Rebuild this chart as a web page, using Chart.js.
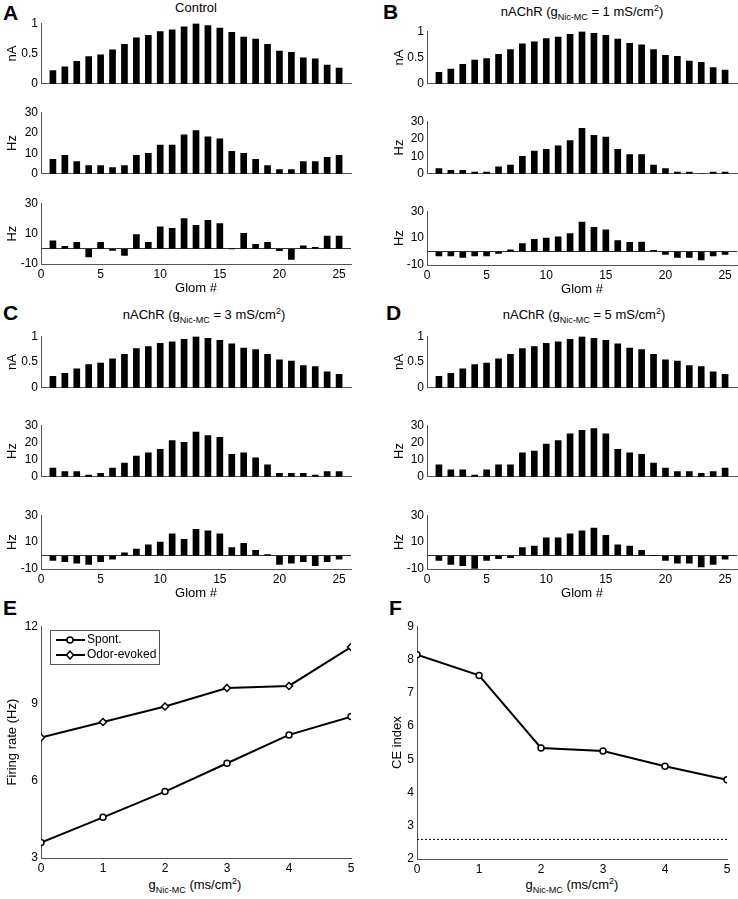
<!DOCTYPE html>
<html>
<head>
<meta charset="utf-8">
<script src="https://cdn.jsdelivr.net/npm/chart.js@4.4.1/dist/chart.umd.min.js"></script>
<style>
  body { margin: 0; width: 738px; height: 899px; position: relative; overflow: hidden; background: #fff;
         font-family: "Liberation Sans", Arial, sans-serif; color: #000; }
  canvas { position: absolute; }
  .lbl { position: absolute; white-space: nowrap; font-size: 13px; line-height: 16px; transform: translate(-50%, -50%); }
  .panel { position: absolute; font-weight: bold; font-size: 21px; line-height: 21px; }
  sub, sup { font-size: 9px; line-height: 0; }
</style>
</head>
<body>
<div class="panel" style="left:3px;top:2px">A</div>
<div class="panel" style="left:383px;top:1px">B</div>
<div class="panel" style="left:3px;top:302px">C</div>
<div class="panel" style="left:386px;top:302px">D</div>
<div class="panel" style="left:3px;top:597px">E</div>
<div class="panel" style="left:389px;top:597px">F</div>

<div class="lbl" style="left:196px;top:8px">Control</div>
<div class="lbl" style="left:582px;top:12px">nAChR (g<sub>Nic-MC</sub> = 1 mS/cm<sup>2</sup>)</div>
<div class="lbl" style="left:204px;top:315px">nAChR (g<sub>Nic-MC</sub> = 3 mS/cm<sup>2</sup>)</div>
<div class="lbl" style="left:584px;top:315px">nAChR (g<sub>Nic-MC</sub> = 5 mS/cm<sup>2</sup>)</div>
<div class="lbl" style="left:195px;top:885px">g<sub>Nic-MC</sub> (ms/cm<sup>2</sup>)</div>
<div class="lbl" style="left:572px;top:885px">g<sub>Nic-MC</sub> (ms/cm<sup>2</sup>)</div>

<script>
// Glomerulus index and tick labels
var glom = [1, 2, 3, 4, 5, 6, 7, 8, 9, 10, 11, 12, 13, 14, 15, 16, 17, 18, 19, 20, 21, 22, 23, 24, 25];
var glomTicks = [0, 5, 10, 15, 20, 25];
var currentTicks = [0, 0.5, 1];
var rateTicks = [0, 10, 20, 30];
var diffTicks = [-10, 10, 30];

// Input current (nA), same in every panel
var inputCurrent = [0.22, 0.28, 0.37, 0.45, 0.48, 0.56, 0.65, 0.76, 0.80, 0.86, 0.89, 0.94, 0.99,
  0.96, 0.92, 0.85, 0.77, 0.74, 0.65, 0.54, 0.52, 0.43, 0.41, 0.31, 0.26];

// Firing rate (Hz), middle rows
var rateControl = [7, 9, 6, 4, 4, 3, 4, 9, 10, 14, 14, 19, 21, 18, 17, 11, 10, 7, 4, 2, 2, 6, 6, 8, 9];
var rateG1 = [3, 2, 2, 1, 1, 4, 5, 10, 13, 14, 16, 19, 26, 22, 21, 14, 11, 11, 5, 3, 1, 1, 0, 1, 1];
var rateG3 = [5, 3, 3, 1, 2, 5, 8, 12, 14, 16, 21, 20, 26, 24, 23, 13, 14, 11, 7, 2, 2, 2, 1, 3, 3];
var rateG5 = [7, 4, 4, 1, 4, 7, 7, 14, 15, 19, 21, 25, 27, 28, 25, 16, 14, 13, 8, 5, 3, 3, 2, 3, 5];

// Difference (Hz), bottom rows
var diffControl = [5.3, 1.7, 4.3, -5.3, 4.3, -1, -4.3, 9.4, 4.3, 14.5, 13.4, 19.8, 15.5, 18.7, 16.6, 0,
  10.2, 3, 4.3, -1.3, -7, 1.9, 1, 8.3, 8.3];
var diffG1 = [-3.3, -3.3, -4.3, -3.3, -3.3, -1.4, 1.2, 6, 9, 10, 11, 13.3, 22, 18, 16.2, 8.1, 6.9, 7.1,
  1, -2.1, -4.3, -4.3, -6.2, -3.3, -2.1];
var diffG3 = [-3.7, -4.6, -5.6, -6.6, -4.6, -2.7, 2, 4.9, 8, 10, 16.1, 12, 19.5, 18.3, 16.1, 5.9, 9, 3.9,
  0.7, -6.6, -5.6, -4.6, -7.6, -4.6, -2.7];
var diffG5 = [-3.7, -6.6, -7.6, -9.5, -3.7, -2.4, -1.5, 5.9, 7.1, 13.2, 13.2, 16.1, 18.3, 20.5, 15.1, 8,
  7.1, 3.9, 0, -3.7, -5.6, -5.6, -8.5, -6.6, -2.7];

// Panels E and F
var gNic = [0, 1, 2, 3, 4, 5];
var spontRate = [3.6, 4.58, 5.58, 6.68, 7.78, 8.49];
var odorRate = [7.68, 8.28, 8.88, 9.6, 9.68, 11.19];
var firingTicks = [3, 6, 9, 12];
var ceIndex = [8.14, 7.52, 5.34, 5.25, 4.79, 4.38];
var ceBaseline = 2.59;
var ceTicks = [2, 3, 4, 5, 6, 7, 8, 9];

Chart.defaults.font.family = '"Liberation Sans", Arial, sans-serif';
Chart.defaults.font.size = 12;
Chart.defaults.color = "#000";
Chart.defaults.animation = false;

var AXIS = "#555";

// make a canvas whose chart area lands on the given box [x0, y0, x1, y1]
function place(area, axW, axH, padTop, padRight) {
  var c = document.createElement("canvas");
  var w = area[2] - area[0] + axW + padRight;
  var h = area[3] - area[1] + padTop + axH;
  c.width = w;
  c.height = h;
  c.style.left = area[0] - axW + "px";
  c.style.top = area[1] - padTop + "px";
  c.style.width = w + "px";
  c.style.height = h + "px";
  document.body.appendChild(c);
  return c;
}

function toPoints(xs, ys) {
  return xs.map(function (x, i) {
    return { x: x, y: ys[i] };
  });
}

function fixedTicks(list) {
  return function (s) {
    s.ticks = list.map(function (v) {
      return { value: v };
    });
  };
}

function barPanel(area, axW, padRight, values, yMin, yMax, yTicks, yTitle, showX, zeroLine) {
  var axH = showX ? 32 : 8;
  var c = place(area, axW, axH, 8, padRight);
  var ticks = zeroLine ? yTicks.concat([0]) : yTicks;
  new Chart(c, {
    type: "bar",
    data: {
      datasets: [
        {
          data: toPoints(glom, values),
          backgroundColor: "#000",
          barThickness: 6,
        },
      ],
    },
    options: {
      responsive: false,
      layout: { padding: { top: 8, right: padRight, left: 0, bottom: 0 } },
      plugins: { legend: { display: false }, tooltip: { enabled: false } },
      scales: {
        x: {
          type: "linear",
          min: 0,
          max: 26,
          offset: false,
          afterBuildTicks: fixedTicks(glomTicks),
          afterFit: function (s) { s.height = axH; },
          grid: { display: false, offset: false, drawTicks: false },
          border: { color: AXIS },
          ticks: { display: showX, padding: 3, autoSkip: false, maxRotation: 0 },
          title: { display: showX, text: "Glom #", font: { size: 13 }, padding: 0 },
        },
        y: {
          min: yMin,
          max: yMax,
          afterBuildTicks: fixedTicks(ticks),
          afterFit: function (s) { s.width = axW; },
          grid: {
            display: zeroLine,
            drawTicks: false,
            color: function (ctx) {
              return ctx.tick && ctx.tick.value === 0 ? "#333" : "rgba(0,0,0,0)";
            },
          },
          border: { color: AXIS },
          ticks: {
            autoSkip: false,
            padding: 3,
            callback: function (v) {
              return zeroLine && v === 0 ? "" : String(v);
            },
          },
          title: { display: true, text: yTitle, font: { size: 13 }, padding: { top: 4, bottom: 0 } },
        },
      },
    },
  });
}

// small images for the legend: line with its marker
function legendSwatch(style) {
  var c = document.createElement("canvas");
  c.width = 30;
  c.height = 10;
  var ctx = c.getContext("2d");
  ctx.strokeStyle = "#000";
  ctx.lineWidth = 2;
  ctx.beginPath();
  ctx.moveTo(0, 5);
  ctx.lineTo(30, 5);
  ctx.stroke();
  ctx.fillStyle = "#fff";
  ctx.lineWidth = 1.5;
  ctx.beginPath();
  if (style === "circle") {
    ctx.arc(15, 5, 3, 0, Math.PI * 2);
  } else {
    ctx.moveTo(15, 1);
    ctx.lineTo(18.5, 5);
    ctx.lineTo(15, 9);
    ctx.lineTo(11.5, 5);
    ctx.closePath();
  }
  ctx.fill();
  ctx.stroke();
  return c;
}

var legendFrame = {
  id: "legendFrame",
  afterLayout: function (chart) {
    if (!chart.legend) return;
    chart.legend.left += 15;
    chart.legend.top += 15;
  },
  afterDraw: function (chart) {
    var boxes = chart.legend && chart.legend.legendHitBoxes;
    if (!boxes || !boxes.length) return;
    var l = Infinity, t = Infinity, r = -Infinity, b = -Infinity;
    boxes.forEach(function (h) {
      l = Math.min(l, h.left);
      t = Math.min(t, h.top);
      r = Math.max(r, h.left + h.width);
      b = Math.max(b, h.top + h.height);
    });
    var ctx = chart.ctx;
    ctx.save();
    ctx.strokeStyle = AXIS;
    ctx.lineWidth = 1;
    ctx.strokeRect(Math.round(l - 9) + 0.5, Math.round(t - 4) + 0.5, Math.round(r - l + 12), Math.round(b - t + 7));
    ctx.restore();
  },
};

function lineScales(yMin, yMax, yTicks, yTitle, axW, axH) {
  return {
    x: {
      type: "linear",
      min: 0,
      max: 5,
      afterBuildTicks: fixedTicks(gNic),
      afterFit: function (s) { s.height = axH; },
      grid: { display: false, drawTicks: false },
      border: { color: AXIS },
      ticks: { padding: 3, autoSkip: false, maxRotation: 0 },
    },
    y: {
      min: yMin,
      max: yMax,
      afterBuildTicks: fixedTicks(yTicks),
      afterFit: function (s) { s.width = axW; },
      grid: { display: false, drawTicks: false },
      border: { color: AXIS },
      ticks: { padding: 3, autoSkip: false },
      title: { display: true, text: yTitle, font: { size: 13 }, padding: { top: 4, bottom: 0 } },
    },
  };
}

var left = [41, 351];
var right = [427, 737];

// A: Control
barPanel([left[0], 21, left[1], 86], 40, 10, inputCurrent, 0, 1, currentTicks, "nA", false, false);
barPanel([left[0], 110, left[1], 176], 40, 10, rateControl, 0, 30, rateTicks, "Hz", false, false);
barPanel([left[0], 201, left[1], 264], 40, 10, diffControl, -10, 30, diffTicks, "Hz", true, true);

// B: g = 1
barPanel([right[0], 29, right[1], 86], 39, 1, inputCurrent, 0, 1, currentTicks, "nA", false, false);
barPanel([right[0], 119, right[1], 176], 39, 1, rateG1, 0, 30, rateTicks, "Hz", false, false);
barPanel([right[0], 209, right[1], 265], 39, 1, diffG1, -10, 30, diffTicks, "Hz", true, true);

// C: g = 3
barPanel([left[0], 334, left[1], 390], 40, 10, inputCurrent, 0, 1, currentTicks, "nA", false, false);
barPanel([left[0], 423, left[1], 479], 40, 10, rateG3, 0, 30, rateTicks, "Hz", false, false);
barPanel([left[0], 513, left[1], 569], 40, 10, diffG3, -10, 30, diffTicks, "Hz", true, true);

// D: g = 5
barPanel([right[0], 334, right[1], 390], 39, 1, inputCurrent, 0, 1, currentTicks, "nA", false, false);
barPanel([right[0], 423, right[1], 479], 39, 1, rateG5, 0, 30, rateTicks, "Hz", false, false);
barPanel([right[0], 513, right[1], 569], 39, 1, diffG5, -10, 30, diffTicks, "Hz", true, true);

// E: firing rates
var lineOpts = {
  borderColor: "#000",
  borderWidth: 2,
  pointBackgroundColor: "#fff",
  pointBorderColor: "#000",
  pointBorderWidth: 1.5,
};

new Chart(place([41, 624, 351, 858], 40, 18, 8, 12), {
  type: "line",
  data: {
    datasets: [
      { label: "Spont.", data: toPoints(gNic, spontRate), ...lineOpts, pointStyle: "circle", pointRadius: 3 },
      { label: "Odor-evoked", data: toPoints(gNic, odorRate), ...lineOpts, pointStyle: "rectRot", pointRadius: 3.5 },
    ],
  },
  options: {
    responsive: false,
    layout: { padding: { top: 8, right: 12, left: 0, bottom: 0 } },
    plugins: {
      tooltip: { enabled: false },
      legend: {
        position: "chartArea",
        align: "start",
        labels: {
          usePointStyle: true,
          pointStyleWidth: 22,
          boxHeight: 12,
          padding: 3,
          font: { size: 12 },
          generateLabels: function (chart) {
            return chart.data.datasets.map(function (d, i) {
              return {
                text: d.label,
                pointStyle: legendSwatch(d.pointStyle),
                datasetIndex: i,
                lineWidth: 0,
                fillStyle: "rgba(0,0,0,0)",
                strokeStyle: "rgba(0,0,0,0)",
                fontColor: "#000",
                hidden: false,
              };
            });
          },
        },
      },
    },
    scales: lineScales(3, 12, firingTicks, "Firing rate (Hz)", 40, 18),
  },
  plugins: [legendFrame],
});

// F: CE index
new Chart(place([417, 624, 727, 859], 31, 18, 8, 10), {
  type: "line",
  data: {
    datasets: [
      { label: "CE index", data: toPoints(gNic, ceIndex), ...lineOpts, pointStyle: "circle", pointRadius: 3 },
      {
        label: "baseline",
        data: toPoints(gNic, gNic.map(function () { return ceBaseline; })),
        borderColor: "#000",
        borderWidth: 1,
        borderDash: [2, 2],
        pointRadius: 0,
      },
    ],
  },
  options: {
    responsive: false,
    layout: { padding: { top: 8, right: 10, left: 0, bottom: 0 } },
    plugins: { legend: { display: false }, tooltip: { enabled: false } },
    scales: lineScales(2, 9, ceTicks, "CE index", 31, 18),
  },
});
</script>
</body>
</html>
